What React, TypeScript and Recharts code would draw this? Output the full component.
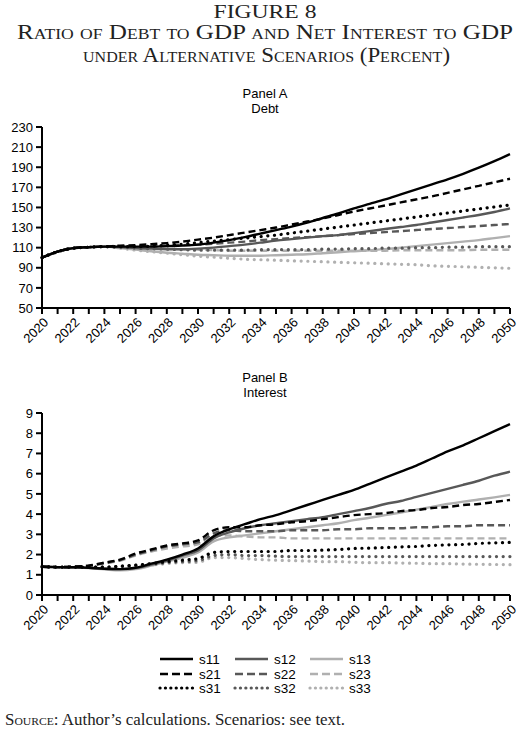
import React from "react";
import { LineChart, Line, XAxis, YAxis } from "recharts";

const years = [2020,2021,2022,2023,2024,2025,2026,2027,2028,2029,2030,2031,2032,2033,2034,2035,2036,2037,2038,2039,2040,2041,2042,2043,2044,2045,2046,2047,2048,2049,2050];

const debtS11 = [100,106,109.5,110.5,111,111,111,111,111.5,112,113,115,117.5,120.5,124,127.5,131,135,139.5,144,149,153.5,158,163,168,173,178,183.5,189.5,196,203];
const debtS21 = [100,106,109.5,110.5,111,112,112.5,113.5,114.5,116,118,120,122.5,125,127.5,130,133,136,139,142.5,146,149,152,155,158,161,164.5,168,171.5,175,178.5];
const debtS31 = [100,106,109.5,110.5,111,111,111,111.5,112.5,113.5,115,116.5,118,119.5,121,122.5,124.5,126.5,128.5,130.5,132.5,134.5,136.5,138.5,140.5,142.5,144.5,146.5,148.5,150.5,152.5];
const debtS12 = [100,106,109.5,110.5,111,110.5,109.5,109,108.5,108.5,109,110,111.5,113,115,117,118.5,120,121.5,122.5,124.5,126.5,128.5,130.5,132.5,135,137.5,140,142.5,145.5,149];
const debtS22 = [100,106,109.5,110.5,111,111.5,111.5,111.5,112,112.5,113,114,115,116,117.5,118.5,119.5,120.5,121.5,122.5,123.5,124.5,125.5,126.5,127.5,128.5,129.5,130.5,131.5,132.5,133.5];
const debtS32 = [100,106,109.5,110.5,111,110.5,109.5,109,108.5,108,107.5,107.5,107.5,107.5,108,108,108,108,108.5,108.5,109,109,109.5,109.5,110,110,110.5,110.5,111,111,111];
const debtS13 = [100,106,109.5,110.5,111,109.5,108,106.5,105,104,103,102.5,102,102,102,102.5,103,103.5,104.5,105.5,106.5,107.5,108.5,110,111.5,113,114.5,116,117.5,119.5,121.5];
const debtS23 = [100,106,109.5,110.5,111,110.5,110,109.5,109,108.5,108,107.5,107,107,107,107,107,107,107,107,107,107,107,107.5,107.5,107.5,107.5,107.5,108,108,108];
const debtS33 = [100,106,109.5,110.5,111,109.5,107.5,106,104.5,103,101.5,100.5,99.5,98.5,98,97.5,97,96.5,96,95.5,95,94.5,94,93.5,93,92,91.5,91,90.5,90,89.5];

const intS11 = [1.4,1.38,1.37,1.35,1.3,1.28,1.35,1.55,1.75,2.0,2.3,2.9,3.25,3.5,3.75,3.95,4.2,4.45,4.7,4.95,5.2,5.5,5.8,6.1,6.4,6.75,7.1,7.4,7.75,8.1,8.45];
const intS12 = [1.4,1.38,1.37,1.35,1.3,1.28,1.33,1.5,1.7,1.95,2.2,2.8,3.1,3.3,3.45,3.55,3.65,3.75,3.85,4.0,4.15,4.3,4.5,4.65,4.85,5.05,5.25,5.45,5.65,5.9,6.1];
const intS13 = [1.4,1.38,1.37,1.33,1.27,1.22,1.28,1.45,1.65,1.85,2.1,2.65,2.85,2.95,3.05,3.15,3.25,3.35,3.45,3.55,3.7,3.82,3.95,4.08,4.22,4.36,4.5,4.62,4.72,4.83,4.95];
const intS21 = [1.4,1.38,1.4,1.45,1.6,1.75,2.05,2.25,2.45,2.55,2.7,3.2,3.35,3.35,3.45,3.5,3.6,3.65,3.75,3.85,3.95,4.0,4.05,4.15,4.2,4.3,4.35,4.45,4.5,4.6,4.7];
const intS22 = [1.4,1.38,1.4,1.45,1.58,1.72,2.0,2.2,2.4,2.5,2.6,3.05,3.2,3.15,3.15,3.15,3.2,3.2,3.2,3.25,3.25,3.3,3.3,3.3,3.35,3.35,3.4,3.4,3.45,3.45,3.45];
const intS23 = [1.4,1.38,1.4,1.45,1.55,1.7,1.95,2.15,2.3,2.4,2.5,2.9,2.95,2.9,2.85,2.85,2.8,2.8,2.8,2.8,2.8,2.8,2.8,2.8,2.8,2.8,2.8,2.8,2.8,2.8,2.8];
const intS31 = [1.4,1.38,1.38,1.38,1.38,1.42,1.48,1.55,1.65,1.72,1.8,2.1,2.15,2.15,2.15,2.15,2.2,2.2,2.22,2.25,2.3,2.32,2.35,2.38,2.4,2.45,2.48,2.5,2.55,2.58,2.6];
const intS32 = [1.4,1.38,1.38,1.38,1.38,1.42,1.46,1.52,1.6,1.65,1.7,1.95,2.0,1.95,1.95,1.92,1.9,1.9,1.9,1.9,1.9,1.9,1.9,1.9,1.9,1.9,1.9,1.9,1.9,1.9,1.9];
const intS33 = [1.4,1.38,1.38,1.38,1.38,1.4,1.44,1.48,1.55,1.6,1.62,1.85,1.85,1.8,1.75,1.72,1.7,1.68,1.65,1.65,1.62,1.6,1.6,1.58,1.57,1.55,1.55,1.53,1.52,1.51,1.5];

const debtTicks = [50,70,90,110,130,150,170,190,210,230];
const intTicks = [0,1,2,3,4,5,6,7,8,9];

const seriesNames = ["s11","s12","s13","s21","s22","s23","s31","s32","s33"];
const debtSeries = [debtS11,debtS12,debtS13,debtS21,debtS22,debtS23,debtS31,debtS32,debtS33];
const intSeries = [intS11,intS12,intS13,intS21,intS22,intS23,intS31,intS32,intS33];

const COLORS: Record<string,string> = { "1": "#000000", "2": "#585858", "3": "#b0b0b0" };
function styleFor(name: string) {
  const kind = name[1];
  const shade = name[2];
  const stroke = COLORS[shade];
  if (kind === "1") return { stroke, strokeWidth: 2.4, strokeDasharray: undefined as any, strokeLinecap: "butt" as const };
  if (kind === "2") return { stroke, strokeWidth: 2.4, strokeDasharray: "7 4", strokeLinecap: "butt" as const };
  return { stroke, strokeWidth: 3.2, strokeDasharray: "0.1 6.6", strokeLinecap: "round" as const };
}

// draw order: lighter first so black lies on top
const drawOrder = ["s33","s23","s13","s32","s22","s12","s31","s21","s11"];

function buildRows(series: number[][]) {
  return years.map((yr, i) => {
    const row: Record<string, number> = { year: yr };
    seriesNames.forEach((n, k) => { row[n] = series[k][i]; });
    return row;
  });
}
const debtRows = buildRows(debtSeries);
const intRows = buildRows(intSeries);

const SANS = "'Liberation Sans', Arial, sans-serif";
const SERIF = "'Liberation Serif', 'DejaVu Serif', serif";

const XTick = (props: any) => {
  const { x, y, payload } = props;
  if (payload.value % 2 !== 0) return null;
  const ax = x + 4;
  const ay = y + 4;
  return (
    <text x={ax} y={ay} transform={`rotate(-45, ${ax}, ${ay})`} textAnchor="end" dominantBaseline="central"
      fontFamily={SANS} fontSize={13} fill="#000">{payload.value}</text>
  );
};

function Panel({ rows, ticks, domain, top, mb }: { rows: any[]; ticks: number[]; domain: [number, number]; top: number; mb: number }) {
  return (
    <div style={{ position: "absolute", left: 0, top, width: 530, height: 250 }}>
      <LineChart width={530} height={250} data={rows} margin={{ top: 10, right: 20, bottom: mb, left: 0 }}>
        <XAxis dataKey="year" type="number" domain={[2020, 2050]} ticks={years} interval={0}
          axisLine={{ stroke: "#000", strokeWidth: 2 }} tickLine={{ stroke: "#000", strokeWidth: 2 }}
          tickSize={6} height={50} tick={<XTick />} allowDecimals={false} />
        <YAxis type="number" domain={domain} ticks={ticks} interval={0} width={42}
          axisLine={{ stroke: "#000", strokeWidth: 2 }} tickLine={{ stroke: "#000", strokeWidth: 2 }}
          tickSize={6} tickMargin={3} allowDataOverflow
          tick={{ fill: "#000", fontSize: 13, fontFamily: SANS }} />
        {drawOrder.map((n) => {
          const s = styleFor(n);
          return (
            <Line key={n} type="monotone" dataKey={n} stroke={s.stroke} strokeWidth={s.strokeWidth}
              strokeDasharray={s.strokeDasharray} strokeLinecap={s.strokeLinecap}
              dot={false} activeDot={false} isAnimationActive={false} />
          );
        })}
      </LineChart>
    </div>
  );
}

const legendCols = [
  ["s11", "s21", "s31"],
  ["s12", "s22", "s32"],
  ["s13", "s23", "s33"],
];

function Legend() {
  const colX = [160, 235, 310];
  const rowY = [659, 674, 688];
  return (
    <svg width={530} height={60} style={{ position: "absolute", left: 0, top: 640 }}>
      {legendCols.map((col, ci) =>
        col.map((n, ri) => {
          const s = styleFor(n);
          const y = rowY[ri] - 640;
          return (
            <g key={n}>
              <line x1={colX[ci]} x2={colX[ci] + 33} y1={y} y2={y} stroke={s.stroke} strokeWidth={s.strokeWidth}
                strokeDasharray={n[1] === "2" ? "8 4" : n[1] === "3" ? "0.1 5.3" : undefined}
                strokeLinecap={s.strokeLinecap} />
              <text x={colX[ci] + 39} y={y} dominantBaseline="central" fontFamily={SANS} fontSize={13.5} fill="#000">{n}</text>
            </g>
          );
        })
      )}
    </svg>
  );
}

export default function App() {
  return (
    <div style={{ position: "absolute", left: 0, top: 0, width: 530, height: 736, background: "#fff", overflow: "hidden" }}>
      <svg width={530} height={72} style={{ position: "absolute", left: 0, top: 0 }}>
        <text x={265} y={18} textAnchor="middle" fontFamily={SERIF} fontSize={19} textLength={103} lengthAdjust="spacingAndGlyphs" fill="#222">FIGURE 8</text>
        <text x={17} y={39} fontFamily={SERIF} fontSize={20} style={{ fontVariant: "small-caps" }} textLength={496} lengthAdjust="spacingAndGlyphs" fill="#222">Ratio of Debt to GDP and Net Interest to GDP</text>
        <text x={83} y={62} fontFamily={SERIF} fontSize={20} style={{ fontVariant: "small-caps" }} textLength={367} lengthAdjust="spacingAndGlyphs" fill="#222">under Alternative Scenarios (Percent)</text>
      </svg>
      <div style={{ position: "absolute", left: 0, top: 86, width: 530, textAlign: "center", fontFamily: SANS, fontSize: 13, lineHeight: "15px", color: "#000" }}>
        <div>Panel A</div>
        <div>Debt</div>
      </div>
      <Panel rows={debtRows} ticks={debtTicks} domain={[50, 230]} top={117} mb={9} />
      <div style={{ position: "absolute", left: 0, top: 370, width: 530, textAlign: "center", fontFamily: SANS, fontSize: 13, lineHeight: "15px", color: "#000" }}>
        <div>Panel B</div>
        <div>Interest</div>
      </div>
      <Panel rows={intRows} ticks={intTicks} domain={[0, 9]} top={403} mb={8} />
      <Legend />
      <svg width={530} height={30} style={{ position: "absolute", left: 0, top: 706 }}>
        <text x={5} y={19} fontFamily={SERIF} fontSize={16} fill="#222" textLength={340} lengthAdjust="spacingAndGlyphs">
          <tspan style={{ fontVariant: "small-caps" }}>Source</tspan>
          <tspan>: Author’s calculations. Scenarios: see text.</tspan>
        </text>
      </svg>
    </div>
  );
}
